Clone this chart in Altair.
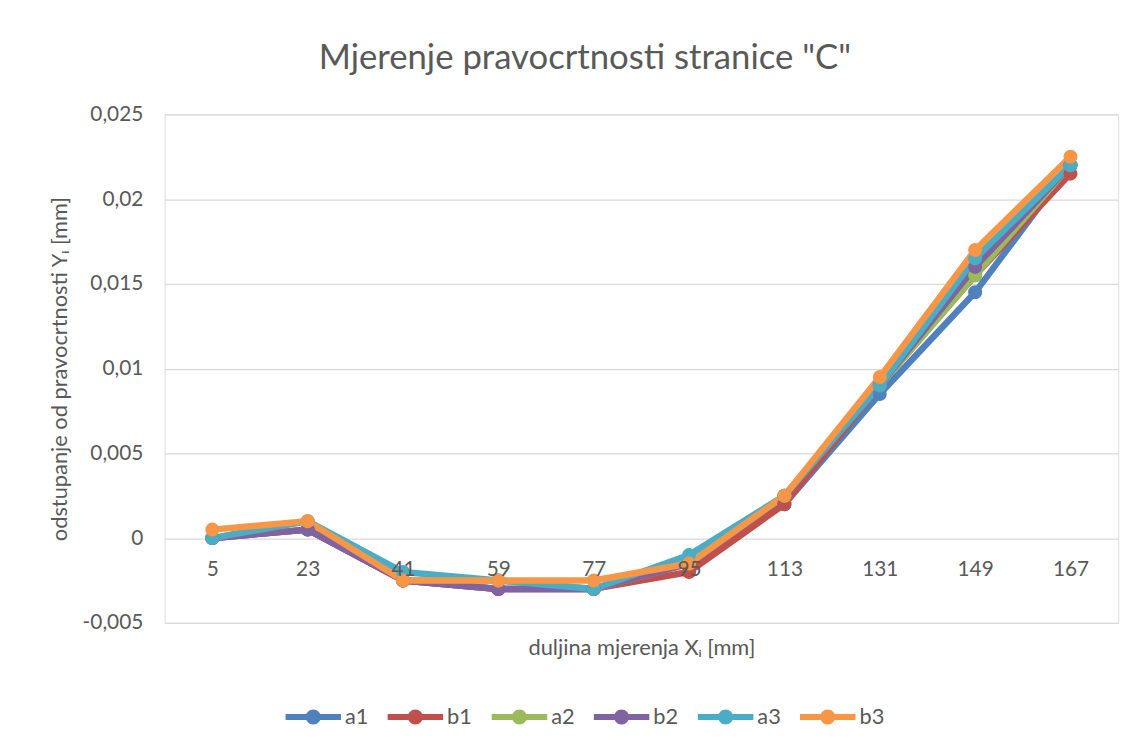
import altair as alt
import pandas as pd

x_labels = ["5", "23", "41", "59", "77", "95", "113", "131", "149", "167"]
series_names = ["a1", "b1", "a2", "b2", "a3", "b3"]
a1 = [0, 0.0005, -0.0025, -0.003, -0.003, -0.0015, 0.002, 0.0085, 0.0145, 0.022]
b1 = [0, 0.0005, -0.0025, -0.003, -0.003, -0.002, 0.002, 0.009, 0.0155, 0.0215]
a2 = [0, 0.001, -0.0025, -0.0025, -0.003, -0.0015, 0.0025, 0.009, 0.0155, 0.022]
b2 = [0, 0.0005, -0.0025, -0.003, -0.003, -0.0015, 0.0025, 0.009, 0.016, 0.022]
a3 = [0, 0.001, -0.002, -0.0025, -0.003, -0.001, 0.0025, 0.009, 0.0165, 0.022]
b3 = [0.0005, 0.001, -0.0025, -0.0025, -0.0025, -0.0015, 0.0025, 0.0095, 0.017, 0.0225]
series_values = [a1, b1, a2, b2, a3, b3]
colors = ["#4F81BD", "#C0504D", "#9BBB59", "#8064A2", "#4BACC6", "#F79646"]
y_ticks = [-0.005, 0, 0.005, 0.01, 0.015, 0.02, 0.025]

rows = []
for k, (name, vals) in enumerate(zip(series_names, series_values)):
    for i, (xl, v) in enumerate(zip(x_labels, vals)):
        rows.append({"series": name, "x": xl, "y": v, "idx": i, "sk": k})
df = pd.DataFrame(rows)

TEXT = "#595959"
FONT = "Lato"
W, H = 962, 513

LEG_PATH = "M-1,-0.107L1,-0.107L1,0.107L-1,0.107Z M-0.27,0A0.27,0.27,0,1,1,0.27,0A0.27,0.27,0,1,1,-0.27,0Z"

color_scale = alt.Scale(domain=series_names, range=colors)

legend = alt.Legend(
    orient="none",
    legendX=122,
    legendY=580,
    direction="horizontal",
    title=None,
    symbolType=LEG_PATH,
    symbolSize=3136,
    symbolStrokeWidth=0,
    symbolOpacity=1,
    labelFontSize=22,
    labelColor=TEXT,
    labelFont=FONT,
    labelOffset=4,
    columnPadding=19,
)

x_enc = alt.X(
    "x:N",
    sort=x_labels,
    scale=alt.Scale(type="point", padding=0.5),
    axis=alt.Axis(
        title="duljina mjerenja Xᵢ [mm]",
        offset=-H / 6,
        domain=False,
        ticks=False,
        grid=False,
        labelAngle=0,
        labelPadding=21,
        labelFontSize=21,
        labelColor=TEXT,
        labelFont=FONT,
        titleFontSize=22,
        titleFontWeight="normal",
        titleColor=TEXT,
        titleFont=FONT,
        titlePadding=58,
        zindex=1,
    ),
)
y_enc = alt.Y(
    "y:Q",
    scale=alt.Scale(domain=[-0.005, 0.025], nice=False, zero=False),
    axis=alt.Axis(
        title="odstupanje od pravocrtnosti Yᵢ [mm]",
        values=y_ticks,
        labelExpr="replace(replace(format(datum.value, ''), '.', ','), '\u2212', '-')",
        domain=False,
        ticks=False,
        grid=True,
        gridColor="#d9d9d9",
        gridWidth=1.3,
        labelPadding=22,
        labelFontSize=21,
        labelColor=TEXT,
        labelFont=FONT,
        titleFontSize=22,
        titleFontWeight="normal",
        titleColor=TEXT,
        titleFont=FONT,
        titleX=-94,
        titleY=H / 2,
    ),
)

color_enc = alt.Color("series:N", scale=color_scale, legend=legend)

base = alt.Chart(df)
lines = base.mark_line(strokeWidth=6.5, strokeCap="round", strokeJoin="round").encode(
    x=x_enc,
    y=y_enc,
    order="idx:Q",
    color=color_enc,
)
points = base.mark_point(filled=True, size=200, opacity=1).encode(
    x=x_enc,
    y=y_enc,
    order="sk:Q",
    color=color_enc,
)

chart = alt.layer(lines, points).properties(
    width=W,
    height=H,
    autosize=alt.AutoSizeParams(type="none"),
    padding={"left": 158, "top": 104, "right": 20, "bottom": 124},
    title=alt.Title(
        'Mjerenje pravocrtnosti stranice "C"',
        fontSize=35,
        fontWeight="normal",
        color=TEXT,
        font=FONT,
        anchor="middle",
        dx=-57,
        offset=28,
    ),
).configure_view(stroke=None).configure(font=FONT, background="white").configure_legend(
    symbolFillColor="#888"
)

chart.save("out.html", embed_options={"renderer": "svg", "actions": False})
